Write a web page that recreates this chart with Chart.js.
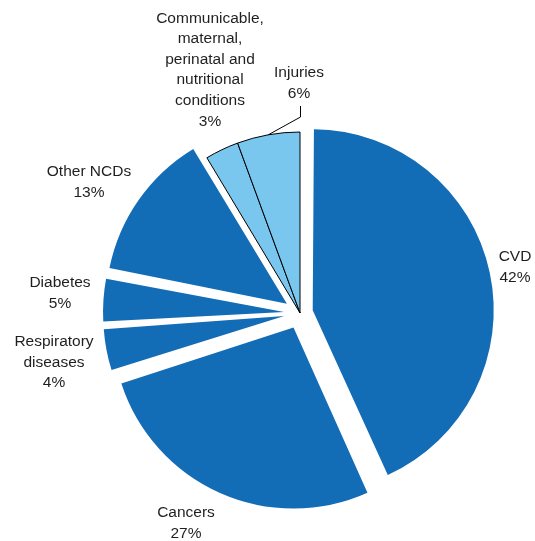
<!DOCTYPE html>
<html>
<head>
<meta charset="utf-8">
<script src="https://cdn.jsdelivr.net/npm/chart.js@4/dist/chart.umd.min.js"></script>
<style>
  html, body { margin: 0; padding: 0; background: #fff; }
  #wrap { width: 535px; height: 541px; }
</style>
</head>
<body>
<div id="wrap"><canvas id="pieChart"></canvas></div>
<script>
// data
const categories = ['CVD', 'Cancers', 'Respiratory diseases', 'Diabetes', 'Other NCDs',
  'Communicable, maternal, perinatal and nutritional conditions', 'Injuries'];
const shares = [43.3, 26.7, 4.0, 4.1, 13.3, 3.0, 5.6];
// percentages as printed on the chart
const printedPct = ['42%', '27%', '4%', '5%', '13%', '3%', '6%'];
// how each label is broken into lines
const labelLines = [
  ['CVD'],
  ['Cancers'],
  ['Respiratory', 'diseases'],
  ['Diabetes'],
  ['Other NCDs'],
  ['Communicable,', 'maternal,', 'perinatal and', 'nutritional', 'conditions'],
  ['Injuries']
];

const darkBlue = '#136cb6';
const lightBlue = '#79c6ee';
const sliceColors = [darkBlue, darkBlue, darkBlue, darkBlue, darkBlue, lightBlue, lightBlue];
// explode distance in px (chart.js moves an arc by offset/4)
const explode = [13, 16, 16, 16, 16, 0, 0];
const sliceBorders = [0, 0, 0, 0, 0, 1, 1];

// label anchor: centre x and baseline of first line
const labelPos = [
  [515, 261], [186, 517], [54, 346], [60, 287], [89, 176], [210, 22.5], [299, 77]
];
const lineGap = 20.6;

// chart.js also grows wide exploded arcs a little; undo that so radii stay equal
const keepRadius = {
  id: 'keepRadius',
  afterDatasetsUpdate(chart) {
    chart.getDatasetMeta(0).data.forEach((arc, i) => {
      const fix = 1 - Math.sin(Math.min(Math.PI, arc.circumference));
      arc.outerRadius -= explode[i] * fix;
    });
  }
};

const outsideLabels = {
  id: 'outsideLabels',
  afterDraw(chart) {
    const ctx = chart.ctx;
    ctx.save();
    ctx.fillStyle = '#1f1f1f';
    ctx.font = '15.5px "Liberation Sans", Arial, sans-serif';
    ctx.textAlign = 'center';
    ctx.textBaseline = 'alphabetic';
    labelLines.forEach((lines, i) => {
      const [x, y] = labelPos[i];
      const all = lines.concat([printedPct[i]]);
      all.forEach((t, k) => ctx.fillText(t, x, y + k * lineGap));
    });
    // leader line for Injuries
    const arc = chart.getDatasetMeta(0).data[6];
    const mid = (arc.startAngle + arc.endAngle) / 2;
    const ex = arc.x + Math.cos(mid) * arc.outerRadius;
    const ey = arc.y + Math.sin(mid) * arc.outerRadius;
    ctx.strokeStyle = '#000';
    ctx.lineWidth = 1;
    ctx.beginPath();
    ctx.moveTo(ex, ey);
    ctx.lineTo(300.5, 117);
    ctx.lineTo(300.5, 106);
    ctx.stroke();
    ctx.restore();
  }
};

new Chart(document.getElementById('pieChart'), {
  type: 'pie',
  data: {
    labels: categories,
    datasets: [{
      data: shares,
      backgroundColor: sliceColors,
      borderColor: '#000',
      borderWidth: sliceBorders,
      borderJoinStyle: 'miter',
      offset: explode.map(d => d * 4)
    }]
  },
  options: {
    responsive: true,
    maintainAspectRatio: false,
    animation: false,
    events: [],
    radius: 181,
    layout: { padding: { left: 65, right: 0, top: 85, bottom: 0 } },
    plugins: {
      legend: { display: false },
      tooltip: { enabled: false }
    }
  },
  plugins: [keepRadius, outsideLabels]
});
</script>
</body>
</html>
